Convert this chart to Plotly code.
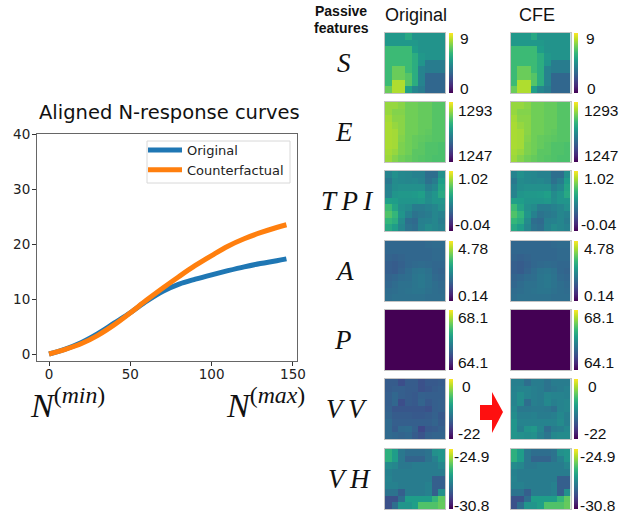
import numpy as np
import plotly.graph_objects as go

W, H = 634, 514

# N-response curves
n_orig = [0, 10, 20, 30, 40, 50, 60, 70, 80, 90, 100, 110, 120, 130, 140, 146]
y_orig = [0, 0.9, 2.1, 3.7, 5.6, 7.5, 9.6, 11.4, 12.7, 13.6, 14.4, 15.15, 15.85, 16.45, 16.95, 17.3]
y_cf = [0, 0.85, 1.9, 3.4, 5.3, 7.5, 9.8, 12.0, 14.1, 16.1, 17.9, 19.6, 20.95, 22.05, 23.0, 23.5]
y_ticks = [0, 10, 20, 30, 40]
x_ticks = [0, 50, 100, 150]

# feature maps, read as percent of each panel's colour scale
S_pct = [
    [53, 53, 53, 60, 51, 51, 51, 51, 51],
    [53, 53, 53, 53, 53, 51, 51, 51, 51],
    [68, 68, 68, 68, 55, 51, 51, 51, 51],
    [68, 68, 68, 68, 62, 53, 51, 51, 51],
    [68, 68, 68, 68, 62, 52, 42, 42, 42],
    [68, 77, 77, 68, 62, 45, 42, 42, 42],
    [68, 77, 77, 73, 62, 45, 33, 33, 33],
    [68, 88, 88, 73, 62, 45, 33, 33, 33],
    [77, 88, 88, 56, 46, 42, 33, 33, 33],
]
E_pct = [
    [84, 84, 82, 78, 78, 76, 76, 73, 73],
    [84, 81, 81, 78, 78, 76, 76, 73, 73],
    [86, 82, 82, 78, 78, 76, 76, 73, 73],
    [87, 84, 82, 78, 78, 76, 76, 73, 73],
    [87, 86, 82, 78, 78, 76, 75, 73, 73],
    [87, 86, 81, 78, 76, 75, 74, 73, 73],
    [87, 86, 80, 78, 76, 74, 72, 72, 71],
    [86, 84, 80, 78, 74, 74, 72, 72, 71],
    [85, 81, 78, 76, 74, 73, 72, 71, 71],
]
TPI_pct = [
    [45, 50, 47, 46, 44, 44, 36, 36, 50],
    [40, 48, 47, 46, 47, 45, 37, 42, 55],
    [44, 49, 50, 50, 50, 50, 43, 47, 58],
    [45, 52, 53, 53, 54, 56, 48, 52, 60],
    [56, 55, 52, 52, 52, 53, 49, 52, 52],
    [68, 58, 50, 48, 42, 42, 44, 46, 50],
    [72, 66, 52, 44, 38, 40, 42, 46, 44],
    [66, 62, 48, 36, 34, 43, 44, 46, 42],
    [60, 55, 46, 38, 36, 44, 48, 46, 44],
]
A_pct = [
    [33, 33, 33, 33, 33, 33, 34, 35, 35],
    [33, 33, 33, 33, 33, 33, 33, 34, 34],
    [32, 31, 32, 33, 33, 33, 33, 34, 34],
    [30, 29, 31, 33, 34, 35, 34, 33, 33],
    [30, 29, 32, 35, 38, 39, 37, 33, 32],
    [32, 33, 35, 36, 39, 40, 38, 34, 33],
    [33, 35, 37, 37, 39, 40, 38, 36, 34],
    [35, 36, 37, 38, 39, 39, 37, 36, 35],
    [36, 37, 37, 37, 37, 37, 36, 36, 36],
]
P_pct = [[0] * 9 for _ in range(9)]
VV_pct = [
    [29, 29, 24, 29, 29, 25, 28, 28, 29],
    [29, 30, 30, 29, 29, 25, 27, 29, 30],
    [30, 33, 30, 29, 28, 31, 30, 30, 30],
    [30, 33, 24, 29, 28, 32, 28, 30, 31],
    [31, 27, 27, 27, 27, 27, 25, 30, 31],
    [32, 29, 29, 29, 28, 28, 29, 31, 28],
    [34, 30, 30, 30, 30, 30, 30, 32, 29],
    [34, 29, 34, 35, 31, 22, 28, 29, 31],
    [34, 33, 32, 33, 29, 26, 31, 32, 32],
]
VV_cfe_pct = [
    [43, 43, 36, 42, 42, 38, 42, 42, 42],
    [44, 45, 45, 43, 42, 38, 40, 42, 44],
    [45, 49, 45, 43, 42, 46, 45, 45, 44],
    [45, 49, 36, 43, 42, 47, 43, 45, 46],
    [47, 40, 40, 41, 41, 40, 37, 45, 46],
    [49, 43, 43, 44, 42, 42, 43, 47, 43],
    [52, 45, 45, 45, 45, 45, 45, 48, 43],
    [52, 43, 51, 53, 46, 35, 42, 43, 47],
    [52, 50, 49, 50, 44, 39, 47, 48, 48],
]
VH_pct = [
    [63, 55, 40, 36, 36, 36, 38, 50, 52],
    [63, 55, 40, 32, 32, 32, 38, 44, 52],
    [48, 46, 40, 40, 42, 42, 42, 42, 46],
    [44, 42, 42, 42, 42, 42, 42, 42, 42],
    [45, 42, 42, 42, 42, 42, 42, 30, 30],
    [44, 44, 42, 42, 42, 42, 44, 30, 30],
    [38, 38, 30, 42, 42, 42, 44, 30, 50],
    [25, 25, 36, 55, 55, 55, 55, 66, 75],
    [25, 36, 52, 52, 56, 72, 72, 72, 76],
]

features = ["S", "E", "T\u2009P\u2009I", "A", "P", "V\u2009V", "V\u2009H"]
scale_low = [0, 1247, -0.04, 0.14, 64.1, -22, -30.8]
scale_high = [9, 1293, 1.02, 4.78, 68.1, 0, -24.9]
low_labels = ["0", "1247", "-0.04", "0.14", "64.1", "-22", "-30.8"]
high_labels = ["9", "1293", "1.02", "4.78", "68.1", "0", "-24.9"]
orig_maps = [S_pct, E_pct, TPI_pct, A_pct, P_pct, VV_pct, VH_pct]
cfe_maps = [S_pct, E_pct, TPI_pct, A_pct, P_pct, VV_cfe_pct, VH_pct]

# layout, in pixels of the 634x514 page
map_tops = [33, 102, 171, 241, 310, 379, 449]
map_h = 60
col_left = [385, 510.5]
map_w = 60
bar_left = [448.5, 574]
bar_w = 3.5
high_label_dy = [6, 8, 7, 7, 7, 7, 7]
low_label_dy = [55, 53, 53, 54, 52, 54, 56]
high_label_dx = [[458, 456, 456, 456, 456, 460, 452], [458, 456, 456, 456, 456, 460, 452]]
low_label_dx = [[458, 456, 453, 456, 456, 456, 452], [459, 456, 453, 456, 456, 456, 452]]
feature_xc = [344, 344, 347, 345, 343, 347, 349]


def px(x):
    return x / W


def py(y):
    return 1 - y / H


fig = go.Figure()
annotations = []
layout_axes = {}

fig.add_trace(go.Scatter(x=n_orig, y=y_orig, name="Original", mode="lines",
                         line=dict(color="#1f77b4", width=5, shape="spline"), xaxis="x", yaxis="y"))
fig.add_trace(go.Scatter(x=n_orig, y=y_cf, name="Counterfactual", mode="lines",
                         line=dict(color="#ff7f0e", width=5, shape="spline"), xaxis="x", yaxis="y"))
layout_axes["xaxis"] = dict(domain=[px(37), px(297)], range=[-7.4, 152.5], tickvals=x_ticks, ticks="outside",
                            ticklen=4, tickcolor="#333", showgrid=False, zeroline=False, showline=True,
                            linecolor="#666", linewidth=1, mirror=True, anchor="y", ticklabelstandoff=-3,
                            tickfont=dict(family="DejaVu Sans", size=13.5, color="#222"))
layout_axes["yaxis"] = dict(domain=[py(361), py(134)], range=[-1.27, 40], tickvals=y_ticks, ticks="outside",
                            ticklen=4, tickcolor="#333", showgrid=False, zeroline=False, showline=True,
                            linecolor="#666", linewidth=1, mirror=True, anchor="x", ticklabelstandoff=-1,
                            tickfont=dict(family="DejaVu Sans", size=13.5, color="#222"))

k = 2
for c, maps in enumerate([orig_maps, cfe_maps]):
    for r, pct in enumerate(maps):
        lo, hi = scale_low[r], scale_high[r]
        z = lo + np.array(pct, dtype=float) / 100 * (hi - lo)
        fig.add_trace(go.Heatmap(
            z=z, zmin=lo, zmax=hi, colorscale="Viridis", xaxis=f"x{k}", yaxis=f"y{k}",
            colorbar=dict(thickness=bar_w, thicknessmode="pixels", len=map_h / H, lenmode="fraction",
                          x=px(bar_left[c]), xanchor="left", xpad=0, ypad=0,
                          y=py(map_tops[r] + map_h / 2), yanchor="middle", outlinewidth=0,
                          ticks="", showticklabels=False)))
        layout_axes[f"xaxis{k}"] = dict(domain=[px(col_left[c]), px(col_left[c] + map_w)], range=[-0.5, 8.5],
                                        showticklabels=False, ticks="", showgrid=False, zeroline=False,
                                        showline=True, linecolor="#c4c4c4", linewidth=1, mirror=True,
                                        anchor=f"y{k}")
        layout_axes[f"yaxis{k}"] = dict(domain=[py(map_tops[r] + map_h), py(map_tops[r])], range=[8.5, -0.5],
                                        showticklabels=False, ticks="", showgrid=False, zeroline=False,
                                        showline=True, linecolor="#c4c4c4", linewidth=1, mirror=True,
                                        anchor=f"x{k}")
        annotations.append(dict(text=high_labels[r], x=px(high_label_dx[c][r] if c == 0 else high_label_dx[c][r] + 125.5),
                                y=py(map_tops[r] + high_label_dy[r]), xanchor="left", yanchor="middle",
                                showarrow=False, xref="paper", yref="paper",
                                font=dict(family="Liberation Sans", size=15.5, color="#111")))
        annotations.append(dict(text=low_labels[r], x=px(low_label_dx[c][r] if c == 0 else low_label_dx[c][r] + 125.5),
                                y=py(map_tops[r] + low_label_dy[r]), xanchor="left", yanchor="middle",
                                showarrow=False, xref="paper", yref="paper",
                                font=dict(family="Liberation Sans", size=15.5, color="#111")))
        k += 1


def note(text, x, y, size, family, anchor="center", color="#111"):
    annotations.append(dict(text=text, x=px(x), y=py(y), xanchor=anchor, yanchor="middle", showarrow=False,
                            xref="paper", yref="paper", font=dict(family=family, size=size, color=color)))


for r, name in enumerate(features):
    note(f"<i>{name}</i>", feature_xc[r], map_tops[r] + 30, 27, "Liberation Serif")

note("Aligned N-response curves", 169, 112, 19.5, "DejaVu Sans")
note("Original", 416, 15, 18, "Liberation Sans")
note("CFE", 537, 15, 18, "Liberation Sans")
note("<b>Passive</b>", 341, 11, 14, "Liberation Sans")
note("<b>features</b>", 341, 28, 14, "Liberation Sans")
note("<i>N</i><sup>(<i>min</i>)</sup>", 67, 403, 34, "Liberation Serif")
note("<i>N</i><sup>(<i>max</i>)</sup>", 265, 403, 34, "Liberation Serif")

# red arrow between the two map columns
arrow = "M {} {} L {} {} L {} {} L {} {} L {} {} L {} {} L {} {} Z".format(
    px(480), py(405), px(492), py(405), px(492), py(392), px(503), py(412),
    px(492), py(433), px(492), py(420), px(480), py(420))

fig.update_layout(
    width=W, height=H, margin=dict(l=0, r=0, t=0, b=0, autoexpand=False), autosize=False,
    paper_bgcolor="white", plot_bgcolor="white",
    annotations=annotations,
    shapes=[
        dict(type="path", path=arrow, xref="paper", yref="paper", fillcolor="#fe1010", line=dict(width=0)),
        dict(type="rect", xref="paper", yref="paper", x0=px(147), x1=px(290), y0=py(183), y1=py(141),
             fillcolor="rgba(0,0,0,0)", line=dict(color="#d8d8d8", width=1)),
    ],
    legend=dict(x=px(143), y=py(135), xanchor="left", yanchor="top", bgcolor="rgba(255,255,255,0)",
                borderwidth=0, font=dict(family="DejaVu Sans", size=13, color="#222"),
                itemwidth=34),
    **layout_axes,
)
for t in fig.data:
    if t.type == "heatmap":
        t.showlegend = False

fig.write_html("out.html", config={"displayModeBar": False},
               post_script="document.body.style.margin='0';document.documentElement.style.overflow='hidden';")
